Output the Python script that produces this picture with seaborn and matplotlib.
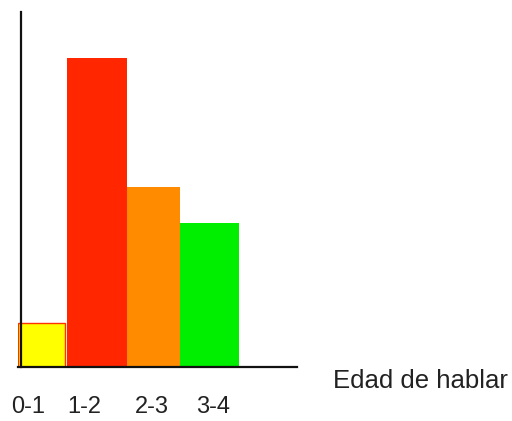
import numpy as np
import pandas as pd
import seaborn as sns
import matplotlib
matplotlib.use("Agg")
import matplotlib.pyplot as plt

# data
grupos = ["0-1", "1-2", "2-3", "3-4"]
valores = [4.4, 30.9, 18.0, 14.4]
colores = ["#FFFF00", "#FF2600", "#FF8C00", "#00EE00"]
eje_x = "Edad de hablar"

# layout (pixel-like units along the x axis)
izq = [0, 49, 109, 162]
ancho = [47, 60, 53, 59]
pos_etiqueta = [10, 66, 134, 195]

sns.set_style("white")
plt.rcParams["font.family"] = ["Liberation Sans", "DejaVu Sans"]

fig = plt.figure(figsize=(5.12, 4.21), dpi=100)
ax = fig.add_axes([18 / 512, (421 - 367) / 421, 279 / 512, 355 / 421])

df = pd.DataFrame({"grupo": grupos, "valor": valores})
sns.barplot(data=df, x="grupo", y="valor", hue="grupo", palette=colores,
            legend=False, ax=ax, saturation=1)

for p, l, w in zip(ax.patches, izq, ancho):
    p.set_x(l)
    p.set_width(w)
    p.set_edgecolor("none")
ax.patches[0].set_edgecolor("#FF3300")
ax.patches[0].set_linewidth(1)

ax.set_xlim(0, 279)
ax.set_ylim(0, 35.5)
ax.set_xticks(pos_etiqueta)
ax.set_xticklabels(grupos, fontsize=17, color="#222222")
ax.tick_params(axis="x", length=0, pad=21)
ax.set_yticks([])
ax.set_xlabel("")
ax.set_ylabel("")

sns.despine(ax=ax)
ax.spines["left"].set_position(("data", 3))
for s in ["left", "bottom"]:
    ax.spines[s].set_color("#111111")
    ax.spines[s].set_linewidth(1.6)

fig.text(333 / 512, 1 - 381 / 421, eje_x, fontsize=18.5, color="#222222",
         ha="left", va="center")

fig.savefig("out.png", dpi=100)
